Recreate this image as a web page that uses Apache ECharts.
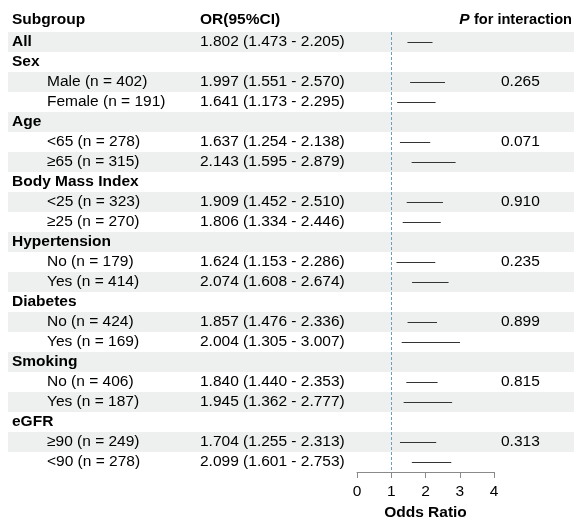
<!DOCTYPE html>
<html>
<head>
<meta charset="utf-8">
<script src="https://cdn.jsdelivr.net/npm/echarts@6/dist/echarts.min.js"></script>
<style>
  html, body { margin: 0; padding: 0; background: #fff; }
  #chart { width: 574px; height: 518px; }
</style>
</head>
<body>
<div id="chart"></div>
<script>
// table rows, top to bottom
const subgroups = [
  'All', 'Sex', 'Male (n = 402)', 'Female (n = 191)',
  'Age', '<65 (n = 278)', '≥65 (n = 315)',
  'Body Mass Index', '<25 (n = 323)', '≥25 (n = 270)',
  'Hypertension', 'No (n = 179)', 'Yes (n = 414)',
  'Diabetes', 'No (n = 424)', 'Yes (n = 169)',
  'Smoking', 'No (n = 406)', 'Yes (n = 187)',
  'eGFR', '≥90 (n = 249)', '<90 (n = 278)'
];
// 0 = group heading (bold), 1 = subgroup (indented)
const level = [0, 0, 1, 1, 0, 1, 1, 0, 1, 1, 0, 1, 1, 0, 1, 1, 0, 1, 1, 0, 1, 1];
const oddsRatio = [1.802, null, 1.997, 1.641, null, 1.637, 2.143, null, 1.909, 1.806, null, 1.624, 2.074, null, 1.857, 2.004, null, 1.840, 1.945, null, 1.704, 2.099];
const lowerCI = [1.473, null, 1.551, 1.173, null, 1.254, 1.595, null, 1.452, 1.334, null, 1.153, 1.608, null, 1.476, 1.305, null, 1.440, 1.362, null, 1.255, 1.601];
const upperCI = [2.205, null, 2.570, 2.295, null, 2.138, 2.879, null, 2.510, 2.446, null, 2.286, 2.674, null, 2.336, 3.007, null, 2.353, 2.777, null, 2.313, 2.753];
const pInteraction = ['', '', '0.265', '', '', '0.071', '', '', '0.910', '', '', '0.235', '', '', '0.899', '', '', '0.815', '', '', '0.313', ''];
const xTicks = [0, 1, 2, 3, 4];

const FONT = "'Liberation Sans', Arial, Helvetica, sans-serif";
const FS = 15.5;
const N = subgroups.length;

function fmt(v) { return v.toFixed(3); }

const rowData = subgroups.map((s, i) => [0, i]);
const ciData = [];
subgroups.forEach((s, i) => {
  if (oddsRatio[i] != null) ciData.push([lowerCI[i], upperCI[i], i]);
});

const chart = echarts.init(document.getElementById('chart'));

// rows as a hidden value axis: one unit per row, centred on integers
const rowAxis = (g) => ({ gridIndex: g, type: 'value', min: -0.5, max: N - 0.5, inverse: true, show: false });

const option = {
  animation: false,
  textStyle: { fontFamily: FONT },
  grid: [
    { left: 8, right: 0, top: 32, height: 440, outerBoundsMode: 'none' },
    { left: 357, width: 137, top: 32, height: 440, outerBoundsMode: 'none' }
  ],
  xAxis: [
    { gridIndex: 0, type: 'value', min: 0, max: 1, show: false },
    {
      gridIndex: 1, type: 'value', min: 0, max: 4, interval: 1,
      axisLine: { show: true, onZero: false, lineStyle: { color: '#8a8a8a', width: 1 } },
      axisTick: { show: true, length: 6, lineStyle: { color: '#8a8a8a' } },
      axisLabel: {
        margin: 12, color: '#000', fontSize: FS, fontFamily: FONT,
        formatter: v => xTicks.includes(v) ? String(v) : ''
      },
      splitLine: { show: false },
      name: 'Odds Ratio', nameLocation: 'middle', nameGap: 30,
      nameTextStyle: { color: '#000', fontSize: FS, fontWeight: 'bold', fontFamily: FONT }
    }
  ],
  yAxis: [rowAxis(0), rowAxis(1)],
  graphic: [
    { type: 'text', left: 12, top: 12, style: { text: 'Subgroup', font: 'bold ' + FS + 'px ' + FONT, fill: '#000' } },
    { type: 'text', left: 200, top: 12, style: { text: 'OR(95%CI)', font: 'bold ' + FS + 'px ' + FONT, fill: '#000' } },
    {
      type: 'text', right: 2, top: 12,
      style: {
        text: '{i|P} {r|for interaction}',
        font: 'bold ' + FS + 'px ' + FONT, fill: '#000',
        rich: {
          i: { fontStyle: 'italic', fontWeight: 'bold', fontSize: FS, fontFamily: FONT, fill: '#000' },
          r: { fontWeight: 'bold', fontSize: 14.6, fontFamily: FONT, fill: '#000' }
        }
      }
    }
  ],
  series: [
    {
      // striped row background
      type: 'custom', xAxisIndex: 0, yAxisIndex: 0, z: 0, silent: true,
      data: rowData,
      encode: { x: 0, y: 1 },
      renderItem: function (params, api) {
        const i = api.value(1);
        if (i % 2 !== 0) return null;
        const top = api.coord([0, i - 0.5])[1];
        const bot = api.coord([0, i + 0.5])[1];
        const cs = params.coordSys;
        return {
          type: 'rect',
          shape: { x: cs.x, y: top, width: cs.width, height: bot - top },
          style: { fill: '#edf0ee' }
        };
      }
    },
    {
      // table text
      type: 'custom', xAxisIndex: 0, yAxisIndex: 0, z: 3, silent: true,
      data: rowData,
      encode: { x: 0, y: 1 },
      renderItem: function (params, api) {
        const i = api.value(1);
        const cy = api.coord([0, i])[1];
        const children = [];
        const bold = level[i] === 0;
        children.push({
          type: 'text',
          style: {
            text: subgroups[i], x: bold ? 12 : 47, y: cy,
            font: (bold ? 'bold ' : '') + FS + 'px ' + FONT,
            fill: '#000', verticalAlign: 'middle', align: 'left'
          }
        });
        if (oddsRatio[i] != null) {
          children.push({
            type: 'text',
            style: {
              text: fmt(oddsRatio[i]) + ' (' + fmt(lowerCI[i]) + ' - ' + fmt(upperCI[i]) + ')',
              x: 200, y: cy, font: FS + 'px ' + FONT,
              fill: '#000', verticalAlign: 'middle', align: 'left'
            }
          });
        }
        if (pInteraction[i]) {
          children.push({
            type: 'text',
            style: {
              text: pInteraction[i], x: 501, y: cy, font: FS + 'px ' + FONT,
              fill: '#000', verticalAlign: 'middle', align: 'left'
            }
          });
        }
        return { type: 'group', children: children };
      }
    },
    {
      // confidence intervals
      type: 'custom', xAxisIndex: 1, yAxisIndex: 1, z: 4, silent: true,
      data: ciData,
      encode: { x: [0, 1], y: 2 },
      renderItem: function (params, api) {
        const i = api.value(2);
        const p1 = api.coord([api.value(0), i]);
        const p2 = api.coord([api.value(1), i]);
        // half-pixel shift keeps the 1px stroke crisp
        return {
          type: 'line',
          shape: { x1: p1[0], y1: p1[1] + 0.5, x2: p2[0], y2: p2[1] + 0.5 },
          style: { stroke: '#333', lineWidth: 1 }
        };
      },
      markLine: {
        silent: true, symbol: 'none',
        label: { show: false },
        lineStyle: { type: [3, 2], color: '#6f9fb8', width: 1 },
        data: [{ xAxis: 1 }]
      }
    }
  ]
};

chart.setOption(option);
</script>
</body>
</html>
